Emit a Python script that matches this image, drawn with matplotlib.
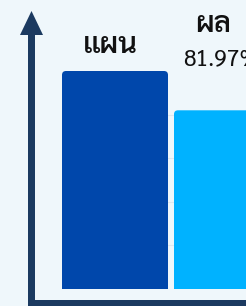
import matplotlib
matplotlib.use("Agg")
import matplotlib.pyplot as plt
from matplotlib.patches import FancyBboxPatch, Rectangle, FancyArrow

# ---- data ----
categories = ["แผน", "ผล"]
values = [100.0, 81.97]
value_labels = ["", "81.97%"]
grid_values = [20, 40, 60, 80]

# ---- style ----
bar_colors = ["#0047ab", "#00b2ff"]
axis_color = "#1b3a60"
bg = "#eff7fb"
grid_color = "#dfe7ee"
fonts = ["Sarabun", "Noto Sans Thai Looped", "DejaVu Sans"]
num_fonts = ["Liberation Sans Narrow", "Sarabun", "DejaVu Sans"]

W, H, DPI = 246, 306, 100
fig = plt.figure(figsize=(W / DPI, H / DPI), dpi=DPI, facecolor=bg)

# main axes spans the full figure; limits map data to pixel layout
px_per_x = 112.0
px_per_y = 2.18
x0_pix = 115.0          # pixel of category 0 centre
base_pix = 289.0        # pixel row of value 0 (from top)
xmin = -x0_pix / px_per_x
xmax = xmin + W / px_per_x
ymin = -(H - base_pix) / px_per_y
ymax = ymin + H / px_per_y

ax = fig.add_axes([0, 0, 1, 1])
ax.set_facecolor(bg)
ax.set_xlim(xmin, xmax)
ax.set_ylim(ymin, ymax)
ax.axis("off")

xs = list(range(len(categories)))
bar_w = 106.0 / px_per_x

# faint gridlines
ax.hlines(grid_values, xs[0] - bar_w / 2, xmax, colors=grid_color, lw=0.8, zorder=0)

bars = ax.bar(xs, values, width=bar_w, color=bar_colors, zorder=2)
r = 4.0 / px_per_x
aspect = px_per_x / px_per_y
for b in bars:
    bx, bw, bh = b.get_x(), b.get_width(), b.get_height()
    b.set_visible(False)
    p = FancyBboxPatch((bx, -5), bw, bh + 5,
                       boxstyle=f"round,pad=0,rounding_size={r}",
                       mutation_aspect=aspect, fc=b.get_facecolor(),
                       ec="none", zorder=2)
    ax.add_patch(p)
    clip = Rectangle((bx, 0), bw, bh, transform=ax.transData)
    p.set_clip_path(clip)

# labels
cat_offsets = [(-5, 18), (-14, 78)]
for i, (c, v, lab) in enumerate(zip(categories, values, value_labels)):
    ax.annotate(c, (xs[i], v), xytext=cat_offsets[i], textcoords="offset pixels",
                ha="center", va="baseline", fontsize=21, fontweight="semibold",
                family=fonts, color="#111111", zorder=5)
    if lab:
        ax.annotate(lab, (xs[i], v), xytext=(-44, 45), textcoords="offset pixels",
                    ha="left", va="baseline", fontsize=16.5, fontweight="normal",
                    family=num_fonts, color="#111111", zorder=5)

# axis arrows drawn in a pixel-space overlay
ov = fig.add_axes([0, 0, 1, 1])
ov.set_xlim(0, W)
ov.set_ylim(H, 0)
ov.axis("off")
ov.patch.set_alpha(0)
ov.add_patch(FancyArrow(31.5, H + 2, 0, 11 - (H + 2), width=7, head_width=23,
                        head_length=24, length_includes_head=True,
                        fc=axis_color, ec="none"))
ov.add_patch(Rectangle((28, 300), W, 8, fc=axis_color, ec="none"))

fig.savefig("out.png", dpi=DPI, facecolor=bg)
